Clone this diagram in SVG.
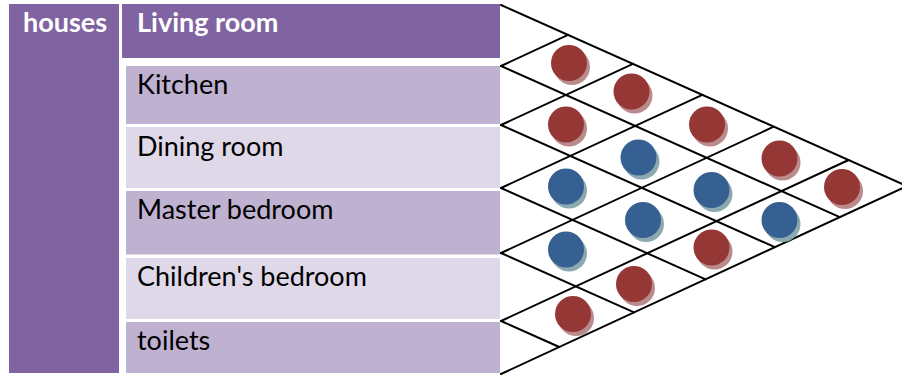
<svg xmlns="http://www.w3.org/2000/svg" width="902" height="375" viewBox="0 0 902 375">
<style>
.hdr{fill:#8064A2}
.rowA{fill:#BFB1D0}
.rowB{fill:#DFD8E8}
.th{font-family:Lato,"Open Sans","Liberation Sans",sans-serif;font-size:27px;font-weight:bold;fill:#FFFFFF}
.td{font-family:Lato,"Open Sans","Liberation Sans",sans-serif;font-size:27px;fill:#000000}
.grid line{stroke:#000000;stroke-width:2;stroke-linecap:round}
.r{fill:#953735}
.rs{fill:#BA8B8D}
.b{fill:#376092}
.bs{fill:#8CA9B0}
</style>
<defs>
<g id="red"><circle class="rs" cx="3" cy="4" r="18"/><circle class="r" cx="0" cy="0" r="18"/></g>
<g id="blue"><circle class="bs" cx="3" cy="4" r="18"/><circle class="b" cx="0" cy="0" r="18"/></g>
</defs>
<rect width="902" height="375" fill="#FFFFFF"/>
<g id="houses"><rect class="hdr" x="9" y="4" width="110" height="369"/><text class="th" x="23" y="31.5">houses</text></g>
<g id="living-room"><rect class="hdr" x="122" y="4" width="378" height="54"/><text class="th" x="137" y="31.5">Living room</text></g>
<g id="kitchen"><rect class="rowA" x="126" y="66" width="374" height="58"/><text class="td" x="137" y="94">Kitchen</text></g>
<g id="dining-room"><rect class="rowB" x="126" y="127" width="374" height="61"/><text class="td" x="137" y="156">Dining room</text></g>
<g id="master-bedroom"><rect class="rowA" x="126" y="191" width="374" height="63.5"/><text class="td" x="137" y="218.5">Master bedroom</text></g>
<g id="childrens-bedroom"><rect class="rowB" x="126" y="258" width="374" height="61"/><text class="td" x="137" y="286">Children's bedroom</text></g>
<g id="toilets"><rect class="rowA" x="126" y="322" width="374" height="51"/><text class="td" x="137" y="350">toilets</text></g>
<g id="connectors" class="grid">
<line x1="501" y1="5" x2="906.9" y2="186.05"/>
<line x1="501" y1="66" x2="839.8" y2="217.1"/>
<line x1="501" y1="125" x2="774.9" y2="247.2"/>
<line x1="501" y1="188" x2="705.6" y2="279.3"/>
<line x1="501" y1="253" x2="634.1" y2="312.4"/>
<line x1="501" y1="321" x2="559.3" y2="347"/>
<line x1="501" y1="66" x2="568.1" y2="34.9"/>
<line x1="501" y1="125" x2="633" y2="63.9"/>
<line x1="501" y1="188" x2="702.3" y2="94.8"/>
<line x1="501" y1="253" x2="773.8" y2="126.7"/>
<line x1="501" y1="321" x2="848.6" y2="160"/>
<line x1="501" y1="374" x2="906.9" y2="186.05"/>
</g>
<g id="cell-0-1"><use href="#red" x="569" y="63"/></g>
<g id="cell-0-2"><use href="#red" x="631.5" y="91.5"/></g>
<g id="cell-1-2"><use href="#red" x="566" y="124.5"/></g>
<g id="cell-0-3"><use href="#red" x="707" y="124.5"/></g>
<g id="cell-1-3"><use href="#blue" x="638.5" y="157.5"/></g>
<g id="cell-0-4"><use href="#red" x="779.5" y="158.5"/></g>
<g id="cell-2-3"><use href="#blue" x="566" y="186.5"/></g>
<g id="cell-1-4"><use href="#blue" x="711.5" y="190"/></g>
<g id="cell-0-5"><use href="#red" x="842" y="187"/></g>
<g id="cell-2-4"><use href="#blue" x="643" y="220"/></g>
<g id="cell-1-5"><use href="#blue" x="779.5" y="220"/></g>
<g id="cell-3-4"><use href="#blue" x="566" y="249.5"/></g>
<g id="cell-2-5"><use href="#red" x="711.5" y="247.5"/></g>
<g id="cell-3-5"><use href="#red" x="634" y="284"/></g>
<g id="cell-4-5"><use href="#red" x="573" y="314"/></g>
</svg>
